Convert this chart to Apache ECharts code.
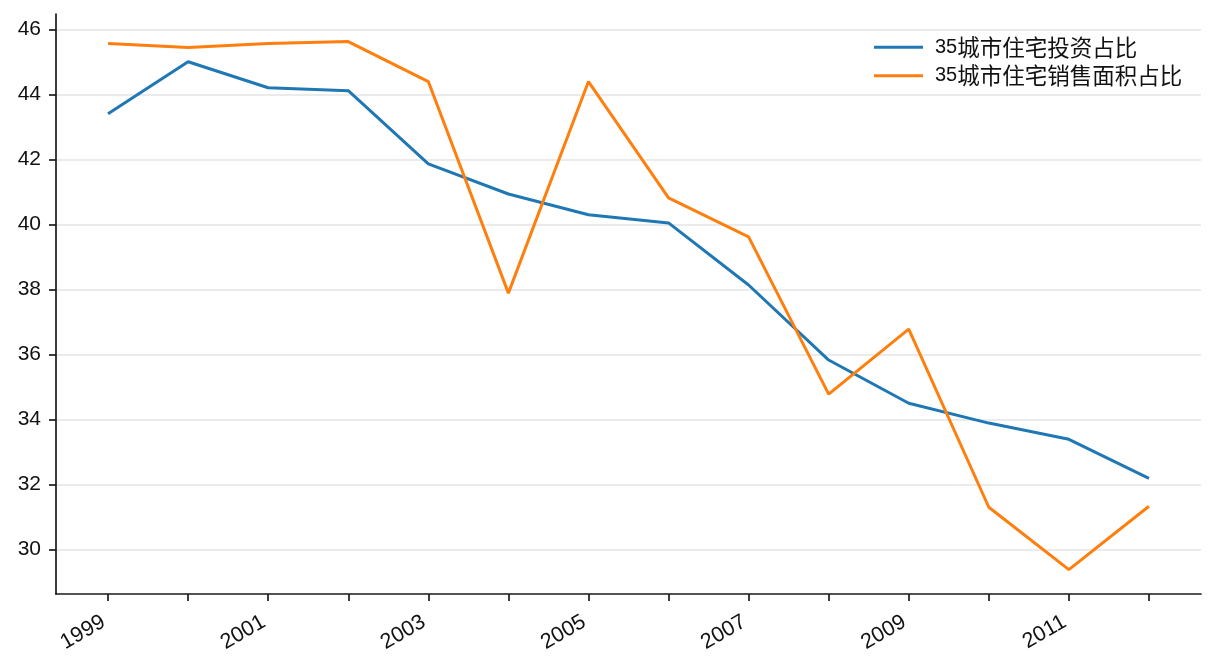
<!DOCTYPE html>
<html><head><meta charset="utf-8">
<script src="https://cdn.jsdelivr.net/npm/echarts@6/dist/echarts.min.js"></script>
<style>html,body{margin:0;padding:0;background:#fff}#c{width:1216px;height:672px}</style>
</head><body><div id="c"></div>
<script>
const years = [1999,2000,2001,2002,2003,2004,2005,2006,2007,2008,2009,2010,2011,2012];
const investShare = [43.41,45.01,44.21,44.12,41.87,40.94,40.30,40.05,38.14,35.83,34.50,33.89,33.39,32.19];
const salesShare = [45.57,45.45,45.57,45.63,44.40,37.89,44.40,40.82,39.62,34.78,36.78,31.30,29.38,31.33];
const seriesNames = ['35城市住宅投资占比','35城市住宅销售面积占比'];
const xLabelYears = [1999,2001,2003,2005,2007,2009,2011];
const yTicks = [30,32,34,36,38,40,42,44,46];

const font = '"Liberation Sans", Arial, "Noto Sans CJK SC", sans-serif';
const axisColor = '#1a1a1a';
const chart = echarts.init(document.getElementById('c'), null, {renderer:'canvas'});
chart.setOption({
  animation:false,
  backgroundColor:'#fff',
  grid:{left:56, right:15, top:14, bottom:78, containLabel:false},
  legend:{
    orient:'vertical', left:869, top:31, itemWidth:49, itemHeight:3, itemGap:6,
    icon:'rect',
    data:seriesNames,
    formatter: n => n.replace(/^(\d+)(.*)$/, '{d|$1}{c|$2}'),
    textStyle:{
      fontFamily:font, color:'#111', padding:[0,0,0,7],
      rich:{
        d:{fontSize:20, fontFamily:font, lineHeight:24, color:'#111'},
        c:{fontSize:22.5, fontFamily:'"Noto Sans CJK SC", sans-serif', lineHeight:24, color:'#111'}
      }
    }
  },
  xAxis:{
    type:'value', min:1998.35, max:2012.65,
    axisLine:{show:true, lineStyle:{color:axisColor, width:1.7}},
    axisTick:{show:true, length:7, lineStyle:{color:axisColor, width:1.7}, customValues:years},
    axisLabel:{customValues:xLabelYears, rotate:30, margin:24, padding:[0,5,0,0], fontSize:21.5, fontFamily:font, color:'#111',
      formatter: v => String(v)},
    splitLine:{show:false}
  },
  yAxis:{
    type:'value', min:28.63, max:46.48,
    axisLine:{show:true, lineStyle:{color:axisColor, width:1.7}},
    axisTick:{show:true, length:7, lineStyle:{color:axisColor, width:1.7}, customValues:yTicks},
    axisLabel:{customValues:yTicks, margin:15, fontSize:21, fontFamily:font, color:'#111',
      formatter: v => String(v)},
    splitLine:{show:true, lineStyle:{color:'#e5e5e5', width:1.5}}
  },
  series:[
    {name:seriesNames[0], type:'line', symbol:'none', color:'#1f77b4',
     lineStyle:{width:3, color:'#1f77b4'},
     data: years.map((y,i)=>[y, investShare[i]])},
    {name:seriesNames[1], type:'line', symbol:'none', color:'#ff7f0e',
     lineStyle:{width:3, color:'#ff7f0e'},
     data: years.map((y,i)=>[y, salesShare[i]])}
  ]
});
</script></body></html>
